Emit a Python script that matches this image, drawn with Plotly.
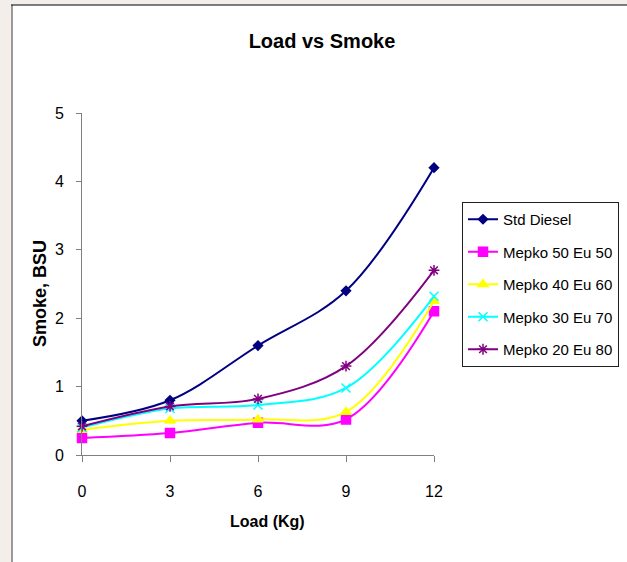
import plotly.graph_objects as go

load = [0, 3, 6, 9, 12]
series_names = ["Std Diesel", "Mepko 50 Eu 50", "Mepko 40 Eu 60", "Mepko 30 Eu 70", "Mepko 20 Eu 80"]
std_diesel = [0.50, 0.80, 1.60, 2.40, 4.20]
mepko50 = [0.25, 0.32, 0.47, 0.52, 2.10]
mepko40 = [0.37, 0.50, 0.52, 0.63, 2.25]
mepko30 = [0.40, 0.68, 0.73, 0.98, 2.32]
mepko20 = [0.42, 0.71, 0.82, 1.30, 2.70]
x_ticks = [0, 3, 6, 9, 12]
y_ticks = [0, 1, 2, 3, 4, 5]

values = [std_diesel, mepko50, mepko40, mepko30, mepko20]
colors = ["#000080", "#FF00FF", "#FFFF00", "#00FFFF", "#800080"]
symbols = ["diamond", "square", "triangle-up", "x-thin-open", "asterisk-open"]
msizes = [7, 9, 9, 9, 9]

FONT = "Liberation Sans, Arial, sans-serif"

fig = go.Figure()
for i, (name, vals) in enumerate(zip(series_names, values)):
    fig.add_trace(go.Scatter(
        x=load, y=vals, name=name, mode="lines+markers",
        line=dict(color=colors[i], width=2, shape="spline", smoothing=1),
        marker=dict(symbol=symbols[i], size=msizes[i], color=colors[i],
                    line=dict(color=colors[i], width=1.5)),
        cliponaxis=False, legendgroup=f"g{i}",
    ))

L, R, T, B = 82, 193, 113, 107
W, H = 627, 562
pw, ph = W - L - R, H - T - B

def px_x(p):
    return (p - L) / pw

def px_y(p):
    return (H - B - p) / ph

fig.update_layout(
    width=W, height=H,
    margin=dict(l=L, r=R, t=T, b=B, autoexpand=False),
    paper_bgcolor="#f3eee9",
    plot_bgcolor="white",
    title=dict(text="<b>Load vs Smoke</b>", x=322 / W, y=1 - 41 / H,
               xanchor="center", yanchor="middle",
               font=dict(family=FONT, size=20, color="black")),
    xaxis=dict(range=[0, 12], tickvals=x_ticks, showgrid=False, zeroline=False,
               showline=True, linecolor="#808080", linewidth=1,
               ticks="outside", ticklen=6, tickcolor="#808080",
               ticklabelstandoff=16,
               tickfont=dict(family=FONT, size=16, color="black")),
    yaxis=dict(range=[0, 5], tickvals=y_ticks, showgrid=False, zeroline=False,
               showline=True, linecolor="#808080", linewidth=1,
               ticks="outside", ticklen=5, tickcolor="#808080",
               ticklabelstandoff=9,
               tickfont=dict(family=FONT, size=16, color="black")),
    legend=dict(x=px_x(462), y=px_y(202), xanchor="left", yanchor="top",
                bgcolor="white", bordercolor="#202020", borderwidth=1,
                font=dict(family=FONT, size=15, color="black"),
                traceorder="grouped", tracegroupgap=10, itemwidth=30),
    showlegend=True,
    annotations=[
        dict(text="<b>Load (Kg)</b>", x=px_x(267), y=px_y(521), xref="paper", yref="paper",
             showarrow=False, xanchor="center", yanchor="middle",
             font=dict(family=FONT, size=16, color="black")),
        dict(text="<b>Smoke, BSU</b>", x=px_x(40), y=px_y(294), xref="paper", yref="paper",
             showarrow=False, textangle=-90, xanchor="center", yanchor="middle",
             font=dict(family=FONT, size=18, color="black")),
    ],
    shapes=[
        dict(type="rect", xref="paper", yref="paper", layer="below",
             x0=px_x(11), x1=px_x(W + 5), y0=px_y(H + 5), y1=px_y(5),
             fillcolor="white", line=dict(width=0)),
        dict(type="line", xref="paper", yref="paper",
             x0=px_x(12), x1=px_x(12), y0=px_y(H + 5), y1=px_y(5),
             line=dict(color="#9a9a9a", width=2)),
        dict(type="line", xref="paper", yref="paper",
             x0=px_x(11), x1=px_x(W + 5), y0=px_y(5), y1=px_y(5),
             line=dict(color="black", width=1)),
    ],
)

fig.write_html("out.html")
